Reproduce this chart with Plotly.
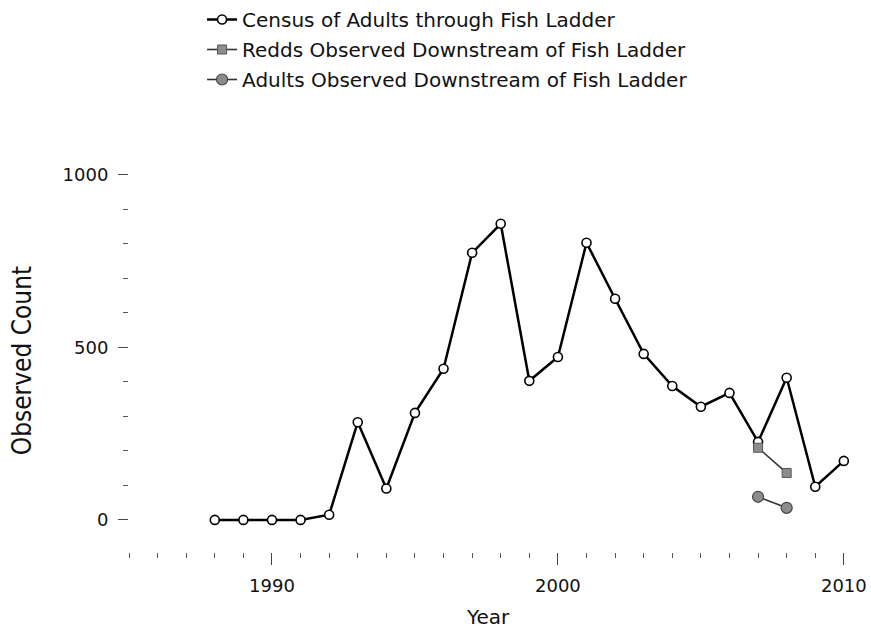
import plotly.graph_objects as go

# Annual counts
years = list(range(1988, 2011))
census_adults = [0, 0, 0, 0, 15, 283, 91, 310, 438, 774, 858, 403, 472, 803,
                 641, 481, 388, 328, 368, 226, 412, 96, 171]

redds_years = [2007, 2008]
redds_downstream = [209, 136]

adult_obs_years = [2007, 2008]
adults_downstream = [67, 35]

series_names = [
    "Census of Adults through Fish Ladder",
    "Redds Observed Downstream of Fish Ladder",
    "Adults Observed Downstream of Fish Ladder",
]

fig = go.Figure()

fig.add_trace(go.Scatter(
    x=years, y=census_adults, name=series_names[0], mode="lines+markers",
    line=dict(color="black", width=2.5),
    marker=dict(symbol="circle", size=9, color="white",
                line=dict(color="black", width=1.6)),
    legendgroup="a",
))
fig.add_trace(go.Scatter(
    x=redds_years, y=redds_downstream, name=series_names[1], mode="lines+markers",
    line=dict(color="#333333", width=1.6),
    marker=dict(symbol="square", size=9, color="#8c8c8c",
                line=dict(color="#555555", width=1)),
    legendgroup="b",
))
fig.add_trace(go.Scatter(
    x=adult_obs_years, y=adults_downstream, name=series_names[2], mode="lines+markers",
    line=dict(color="#333333", width=1.6),
    marker=dict(symbol="circle", size=11, color="#8c8c8c",
                line=dict(color="#444444", width=1.2)),
    legendgroup="c",
))

tick_font = dict(family="DejaVu Sans", size=18, color="#111111")

fig.update_layout(
    width=871, height=632, autosize=False,
    margin=dict(l=129, r=10, t=161, b=80, autoexpand=False),
    paper_bgcolor="white", plot_bgcolor="white",
    showlegend=True,
    legend=dict(
        xref="container", yref="container", x=0.232, y=1.0,
        xanchor="left", yanchor="top",
        font=dict(family="DejaVu Sans", size=20, color="#111111"),
        tracegroupgap=1, bgcolor="rgba(0,0,0,0)",
    ),
    xaxis=dict(
        range=[1985, 2010.6], showgrid=False, zeroline=False, showline=False,
        tickmode="linear", tick0=1990, dtick=10,
        ticks="outside", ticklen=12, tickwidth=1, tickcolor="#444444",
        tickfont=tick_font, ticklabelstandoff=5, automargin=False,
        minor=dict(ticks="outside", ticklen=5, tickwidth=1, tickcolor="#555555",
                   tick0=1985, dtick=1, showgrid=False),
    ),
    yaxis=dict(
        range=[-93, 1040], showgrid=False, zeroline=False, showline=False,
        tickmode="linear", tick0=0, dtick=500,
        ticks="outside", ticklen=10, tickwidth=1, tickcolor="#444444",
        tickfont=tick_font, ticklabelstandoff=6, automargin=False,
        minor=dict(ticks="outside", ticklen=5, tickwidth=1, tickcolor="#555555",
                   dtick=100, showgrid=False),
    ),
    annotations=[
        dict(text="Year", xref="paper", yref="paper", x=0.49, y=-0.166,
             xanchor="center", yanchor="middle", showarrow=False,
             font=dict(family="DejaVu Sans", size=20, color="#111111")),
        dict(text="Observed Count", xref="paper", yref="paper", x=-0.145, y=0.49,
             xanchor="center", yanchor="middle", showarrow=False, textangle=-90,
             font=dict(family="DejaVu Sans Condensed, Roboto", size=26, color="#111111")),
    ],
)

fig.write_html("out.html")
